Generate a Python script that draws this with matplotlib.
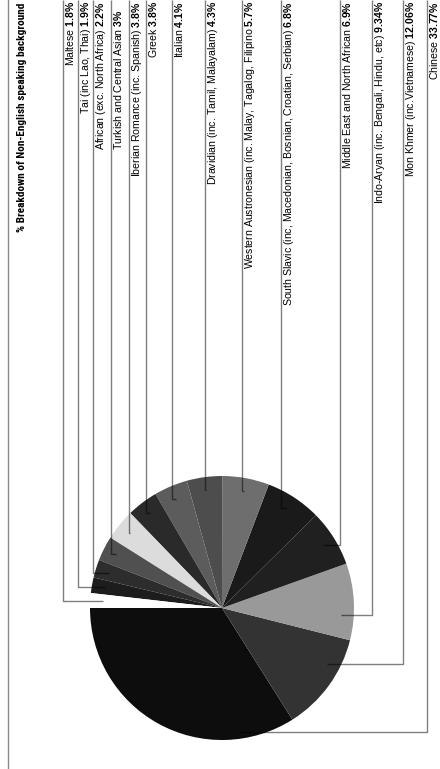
import numpy as np
import matplotlib
matplotlib.use("Agg")
import matplotlib.pyplot as plt

plt.rcParams['font.family'] = ['Liberation Sans', 'DejaVu Sans']
plt.rcParams['mathtext.fontset'] = 'custom'
plt.rcParams['mathtext.rm'] = 'Liberation Sans'
plt.rcParams['mathtext.bf'] = 'Liberation Sans:bold'

# data (slice order: counter-clockwise from 9 o'clock)
languages = [
    "Chinese",
    "Mon Khmer (inc.Vietnamese)",
    "Indo-Aryan (inc. Bengali, Hindu, etc)",
    "Middle East and North African",
    "South Slavic (inc, Macedonian, Bosnian, Croatian, Serbian)",
    "Western Austronesian (inc. Malay, Tagalog, Filipino",
    "Dravidian (inc. Tamil, Malayalam)",
    "Italian",
    "Greek",
    "Iberian Romance (inc. Spanish)",
    "Turkish and Central Asian",
    "African (exc. North Africa)",
    "Tai (inc Lao, Thai)",
    "Maltese",
]
shares = [33.77, 12.06, 9.34, 6.9, 6.8, 5.7, 4.3, 4.1, 3.8, 3.8, 3, 2.2, 1.9, 1.8]
pct_text = ["33.77%", "12.06%", "9.34%", "6.9%", "6.8%", "5.7%", "4.3%",
            "4.1%", "3.8%", "3.8%", "3%", "2.2%", "1.9%", "1.8%"]
title = "% Breakdown of Non-English speaking background"

# styling / layout (pixels, the chart is drawn turned a quarter turn)
slice_colors = ["#0d0d0d", "#333333", "#999999", "#202020", "#1a1a1a", "#6e6e6e",
                "#4d4d4d", "#5c5c5c", "#2a2a2a", "#dcdcdc", "#505050", "#2d2d2d",
                "#1d1d1d", "#ffffff"]
label_x = [427, 402.7, 371.7, 340, 280.7, 241.7, 205, 171.7, 146, 128.7, 111, 93.3, 77.7, 62.7]
label_top = [1, 1, 1, 1, 1, 1, 1, 1, 1, 1, 9, 1, 1, 1]
# where the leader line meets the slice: shift from mid angle (deg), radius fraction
anchor_shift = [37, 8, -6, 0, 0, 0, 0, 0, 0, 0, 0, 0, 0, 0]
anchor_r = [0.95, 0.9, 0.9, 0.9, 0.9, 0.9, 0.9, 0.9, 0.9, 0.9, 0.9, 0.9, 0.9, 0.9]

W, H = 440, 769
cx, cy, R = 222, H - 608, 132

fig = plt.figure(figsize=(W / 100, H / 100), dpi=100)
ax = fig.add_axes([0, 0, 1, 1])

wedges, _ = ax.pie(shares, colors=slice_colors, startangle=180, counterclock=True,
                   center=(cx, cy), radius=R, wedgeprops=dict(linewidth=0))
ax.set_xlim(0, W)
ax.set_ylim(0, H)
ax.set_aspect('equal')
ax.axis('off')

# border line along the title side
ax.plot([8, 8], [0, H], color='#8a8a8a', lw=1.0)
ax.text(17, H - 3, title, rotation=90, ha='left', va='top', fontsize=8.1,
        fontweight='bold', family=['Roboto Condensed', 'Liberation Sans'])

for i, w in enumerate(wedges):
    mid = np.deg2rad((w.theta1 + w.theta2) / 2 + anchor_shift[i])
    axx = cx + anchor_r[i] * R * np.cos(mid)
    ayy = cy + anchor_r[i] * R * np.sin(mid)
    lx = label_x[i]
    ax.plot([lx, lx, axx], [H, ayy, ayy], color='black', alpha=0.5, lw=1.0,
            solid_capstyle='butt')
    pct = r"$\mathbf{" + pct_text[i].replace("%", r"\%") + "}$"
    ax.text(lx + 1, H - label_top[i], languages[i] + " " + pct,
            rotation=90, ha='left', va='top', fontsize=7.6)

fig.savefig("out.png", dpi=100)
